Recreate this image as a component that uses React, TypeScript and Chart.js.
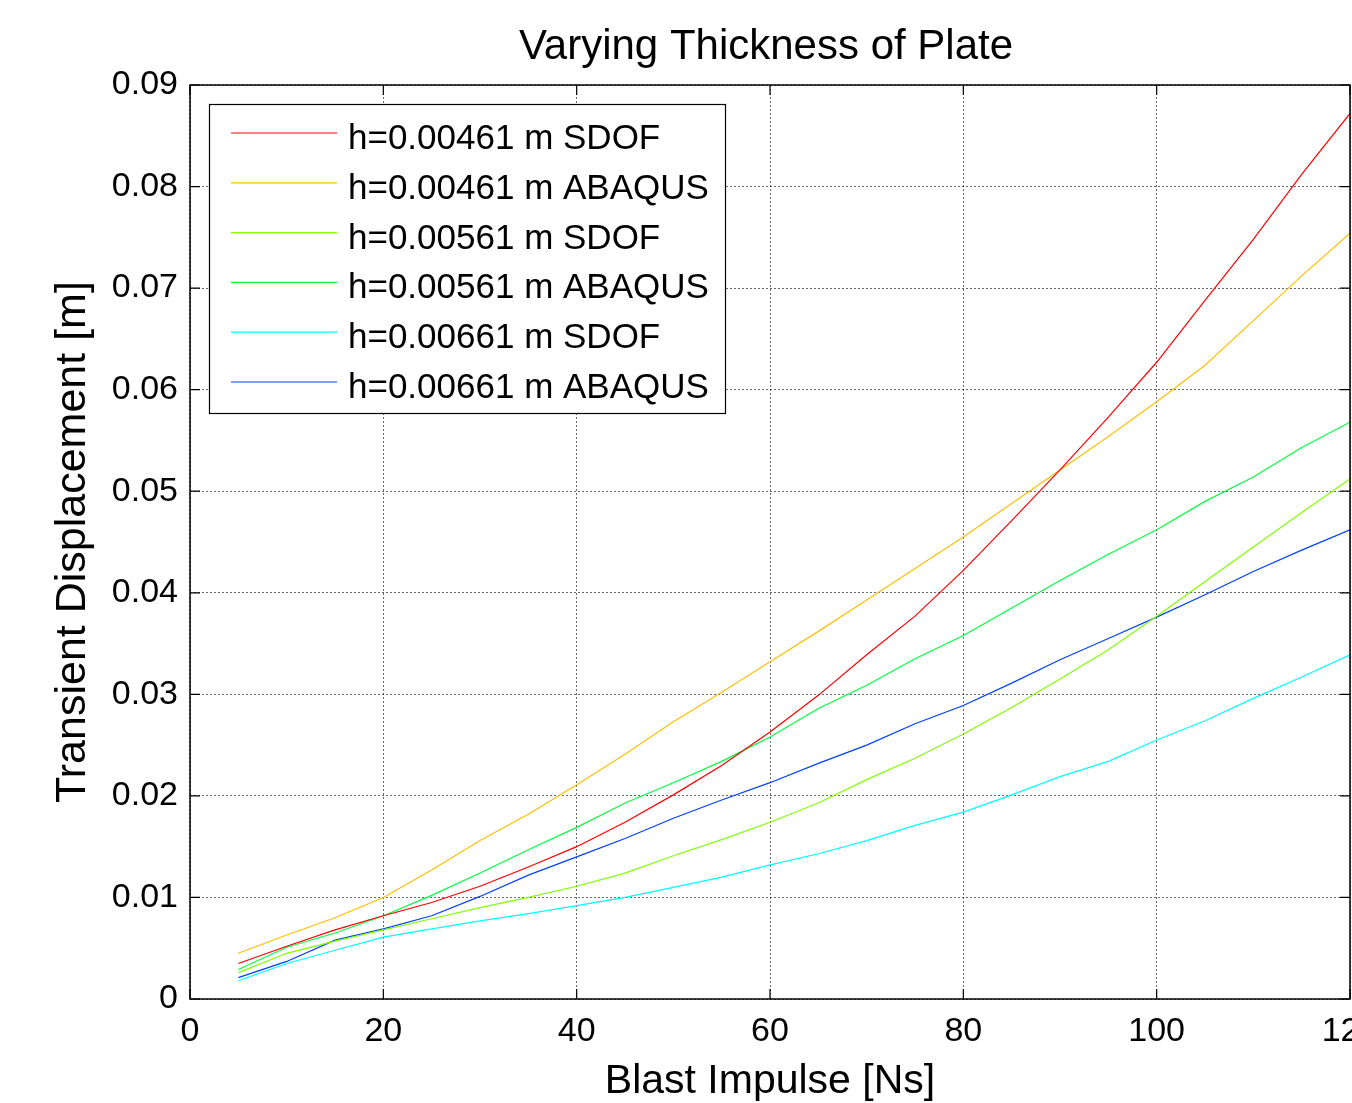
import React, { useEffect, useRef } from 'react';
import { Chart, registerables } from 'chart.js';

Chart.register(...registerables);

const FONT = "'Liberation Sans', Arial, Helvetica, sans-serif";

const chartTitle = 'Varying Thickness of Plate';
const xAxisTitle = 'Blast Impulse [Ns]';
const yAxisTitle = 'Transient Displacement [m]';

const impulse = [5, 10, 15, 20, 25, 30, 35, 40, 45, 50, 55, 60, 65, 70, 75, 80, 85, 90, 95, 100, 105, 110, 115, 120];

const sdof461 = [0.0035, 0.0052, 0.0068, 0.0082, 0.0095, 0.0111, 0.0130, 0.0150, 0.0174, 0.0201, 0.0230, 0.0263, 0.0299, 0.0339, 0.0377, 0.0422, 0.0471, 0.0521, 0.0573, 0.0627, 0.0688, 0.0748, 0.0812, 0.0872];
const abaqus461 = [0.0045, 0.0063, 0.0080, 0.0100, 0.0127, 0.0156, 0.0182, 0.0211, 0.0241, 0.0273, 0.0302, 0.0332, 0.0362, 0.0393, 0.0424, 0.0455, 0.0488, 0.0521, 0.0554, 0.0588, 0.0624, 0.0668, 0.0712, 0.0754];
const sdof561 = [0.0026, 0.0045, 0.0057, 0.0068, 0.0079, 0.0090, 0.0100, 0.0111, 0.0124, 0.0141, 0.0157, 0.0174, 0.0193, 0.0216, 0.0237, 0.0261, 0.0287, 0.0315, 0.0344, 0.0377, 0.0411, 0.0445, 0.0479, 0.0512];
const abaqus561 = [0.0029, 0.0051, 0.0065, 0.0082, 0.0102, 0.0124, 0.0147, 0.0169, 0.0193, 0.0213, 0.0234, 0.0258, 0.0286, 0.0309, 0.0335, 0.0358, 0.0385, 0.0412, 0.0438, 0.0462, 0.0490, 0.0514, 0.0543, 0.0568];
const sdof661 = [0.0018, 0.0035, 0.0048, 0.0061, 0.0069, 0.0077, 0.0084, 0.0092, 0.0100, 0.0110, 0.0120, 0.0132, 0.0143, 0.0156, 0.0171, 0.0184, 0.0201, 0.0219, 0.0234, 0.0255, 0.0274, 0.0296, 0.0317, 0.0339];
const abaqus661 = [0.0021, 0.0037, 0.0058, 0.0069, 0.0082, 0.0101, 0.0122, 0.0140, 0.0158, 0.0178, 0.0196, 0.0213, 0.0232, 0.0250, 0.0271, 0.0289, 0.0311, 0.0334, 0.0355, 0.0376, 0.0398, 0.0421, 0.0442, 0.0462];

const seriesLabels = [
  'h=0.00461 m SDOF',
  'h=0.00461 m ABAQUS',
  'h=0.00561 m SDOF',
  'h=0.00561 m ABAQUS',
  'h=0.00661 m SDOF',
  'h=0.00661 m ABAQUS',
];
const seriesValues = [sdof461, abaqus461, sdof561, abaqus561, sdof661, abaqus661];
const seriesColors = ['#ff0000', '#ffbf00', '#80ff00', '#00ff40', '#00ffff', '#0040ff'];

const matlabPlugin = {
  id: 'matlabFrame',
  afterDatasetsDraw(chart: any) {
    const { ctx, chartArea: ca } = chart;
    const xs = chart.scales.x;
    const ys = chart.scales.y;
    ctx.save();
    // box
    ctx.strokeStyle = '#000';
    ctx.lineWidth = 1.5;
    ctx.strokeRect(ca.left, ca.top, ca.right - ca.left, ca.bottom - ca.top);
    // inward ticks
    ctx.lineWidth = 1.2;
    const tl = 10;
    ctx.beginPath();
    xs.ticks.forEach((t: any) => {
      const px = xs.getPixelForValue(t.value);
      ctx.moveTo(px, ca.bottom);
      ctx.lineTo(px, ca.bottom - tl);
      ctx.moveTo(px, ca.top);
      ctx.lineTo(px, ca.top + tl);
    });
    ys.ticks.forEach((t: any) => {
      const py = ys.getPixelForValue(t.value);
      ctx.moveTo(ca.left, py);
      ctx.lineTo(ca.left + tl, py);
      ctx.moveTo(ca.right, py);
      ctx.lineTo(ca.right - tl, py);
    });
    ctx.stroke();

    // legend
    const lx = ca.left + 19;
    const ly = ca.top + 19;
    const lw = 516;
    const lh = 309;
    ctx.fillStyle = '#fff';
    ctx.fillRect(lx, ly, lw, lh);
    ctx.strokeStyle = '#000';
    ctx.lineWidth = 1.2;
    ctx.strokeRect(lx + 0.5, ly + 0.5, lw, lh);
    ctx.font = `35px ${FONT}`;
    ctx.textAlign = 'left';
    ctx.textBaseline = 'alphabetic';
    chart.data.datasets.forEach((ds: any, i: number) => {
      const rowY = ly + 29 + i * 49.8;
      ctx.strokeStyle = ds.borderColor;
      ctx.lineWidth = 1.2;
      ctx.beginPath();
      ctx.moveTo(lx + 22, rowY);
      ctx.lineTo(lx + 128, rowY);
      ctx.stroke();
      ctx.fillStyle = '#000';
      ctx.fillText(ds.label, lx + 139, rowY + 16);
    });

    // title
    ctx.font = `42px ${FONT}`;
    ctx.textAlign = 'center';
    ctx.textBaseline = 'middle';
    ctx.fillStyle = '#000';
    ctx.fillText(chartTitle, (ca.left + ca.right) / 2 - 4, 47);
    ctx.restore();
  },
};

export default function App() {
  const ref = useRef<HTMLCanvasElement | null>(null);

  useEffect(() => {
    if (!ref.current) return;
    const datasets = seriesLabels.map((label, i) => ({
      label,
      data: impulse.map((x, j) => ({ x, y: seriesValues[i][j] })),
      borderColor: seriesColors[i],
      backgroundColor: seriesColors[i],
      borderWidth: 1.2,
      pointRadius: 0,
      tension: 0,
      fill: false,
    }));
    const chart = new Chart(ref.current, {
      type: 'line',
      data: { datasets },
      options: {
        animation: false,
        responsive: false,
        devicePixelRatio: 1,
        layout: { padding: { top: 85, right: 70, left: 0, bottom: 0 } },
        plugins: {
          legend: { display: false },
          title: { display: false },
          tooltip: { enabled: false },
        },
        scales: {
          x: {
            type: 'linear',
            min: 0,
            max: 120,
            afterFit: (s: any) => { s.height = 104; },
            ticks: {
              stepSize: 20,
              autoSkip: false,
              maxRotation: 0,
              padding: 12,
              color: '#000',
              font: { family: FONT, size: 34, lineHeight: 1.2 },
              callback: (v: any) => String(v),
            },
            grid: { color: 'rgba(0,0,0,0.6)', lineWidth: 1, drawTicks: false },
            border: { display: false, dash: [2, 2] },
            title: {
              display: true,
              text: xAxisTitle,
              color: '#000',
              font: { family: FONT, size: 41, lineHeight: 1 },
              padding: { top: 0, bottom: 1 },
            },
          },
          y: {
            type: 'linear',
            min: 0,
            max: 0.09,
            afterFit: (s: any) => { s.width = 190; },
            ticks: {
              stepSize: 0.01,
              autoSkip: false,
              padding: 12,
              color: '#000',
              font: { family: FONT, size: 34, lineHeight: 1.2 },
              callback: (v: any) => (Math.abs(v) < 1e-9 ? '0' : Number(v).toFixed(2)),
            },
            grid: { color: 'rgba(0,0,0,0.6)', lineWidth: 1, drawTicks: false },
            border: { display: false, dash: [2, 2] },
            title: {
              display: true,
              text: yAxisTitle,
              color: '#000',
              font: { family: FONT, size: 43, lineHeight: 1 },
              padding: { top: 52, bottom: 0 },
            },
          },
        },
      },
      plugins: [matlabPlugin],
    });
    return () => chart.destroy();
  }, []);

  return (
    <div style={{ position: 'fixed', left: 0, top: 0, width: 1352, height: 1103, overflow: 'hidden', background: '#fff' }}>
      <canvas ref={ref} width={1420} height={1103} style={{ width: 1420, height: 1103, display: 'block' }} />
    </div>
  );
}
